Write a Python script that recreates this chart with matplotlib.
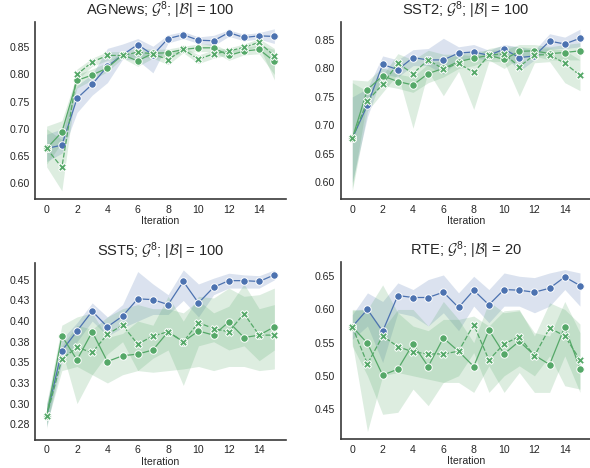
import numpy as np
import matplotlib
matplotlib.use("Agg")
import matplotlib.pyplot as plt

plt.rcParams['font.family'] = ['Liberation Sans', 'DejaVu Sans']
plt.rcParams['mathtext.fontset'] = 'custom'
plt.rcParams['mathtext.rm'] = 'Liberation Sans'
plt.rcParams['mathtext.it'] = 'Liberation Sans:italic'
plt.rcParams['mathtext.cal'] = 'cmsy10'

BLUE = '#4C72B0'
GREEN = '#55A868'
TXT = '#262626'

iters = np.arange(16)

# ---- AGNews ----
ag_blue = [0.664, 0.670, 0.756, 0.782, 0.815, 0.836, 0.855, 0.836, 0.866, 0.873, 0.863, 0.862, 0.877, 0.868, 0.871, 0.870]
ag_blue_lo = [0.640, 0.655, 0.730, 0.762, 0.785, 0.828, 0.826, 0.803, 0.858, 0.866, 0.857, 0.853, 0.870, 0.862, 0.865, 0.857]
ag_blue_hi = [0.690, 0.700, 0.780, 0.800, 0.848, 0.856, 0.866, 0.852, 0.873, 0.879, 0.869, 0.872, 0.882, 0.874, 0.877, 0.884]
ag_gc = [0.664, 0.694, 0.789, 0.799, 0.812, 0.836, 0.825, 0.839, 0.840, 0.846, 0.849, 0.849, 0.835, 0.843, 0.846, 0.824]
ag_gc_lo = [0.635, 0.675, 0.775, 0.790, 0.805, 0.830, 0.815, 0.830, 0.832, 0.840, 0.842, 0.842, 0.826, 0.836, 0.838, 0.800]
ag_gc_hi = [0.705, 0.715, 0.800, 0.810, 0.822, 0.842, 0.836, 0.846, 0.847, 0.852, 0.856, 0.856, 0.843, 0.850, 0.854, 0.846]
ag_gx = [0.664, 0.629, 0.800, 0.823, 0.835, 0.835, 0.841, 0.838, 0.827, 0.846, 0.828, 0.838, 0.843, 0.850, 0.859, 0.834]
ag_gx_lo = [0.630, 0.586, 0.790, 0.815, 0.826, 0.830, 0.833, 0.830, 0.818, 0.840, 0.820, 0.830, 0.836, 0.844, 0.852, 0.790]
ag_gx_hi = [0.700, 0.680, 0.810, 0.830, 0.842, 0.842, 0.849, 0.846, 0.836, 0.851, 0.836, 0.845, 0.849, 0.856, 0.866, 0.848]

# ---- SST2 ----
s2_blue = [0.677, 0.736, 0.807, 0.798, 0.819, 0.815, 0.815, 0.827, 0.829, 0.823, 0.834, 0.819, 0.822, 0.848, 0.843, 0.853]
s2_blue_lo = [0.600, 0.715, 0.790, 0.785, 0.805, 0.805, 0.790, 0.815, 0.818, 0.815, 0.825, 0.795, 0.815, 0.835, 0.835, 0.838]
s2_blue_hi = [0.750, 0.765, 0.822, 0.815, 0.833, 0.835, 0.853, 0.838, 0.842, 0.832, 0.842, 0.838, 0.832, 0.861, 0.855, 0.869]
s2_gc = [0.677, 0.763, 0.787, 0.777, 0.771, 0.791, 0.800, 0.812, 0.818, 0.823, 0.816, 0.830, 0.831, 0.826, 0.828, 0.831]
s2_gc_lo = [0.590, 0.748, 0.770, 0.765, 0.758, 0.775, 0.785, 0.800, 0.805, 0.815, 0.800, 0.818, 0.822, 0.815, 0.815, 0.815]
s2_gc_hi = [0.780, 0.778, 0.802, 0.790, 0.785, 0.808, 0.815, 0.825, 0.830, 0.832, 0.832, 0.842, 0.842, 0.838, 0.842, 0.845]
s2_gx = [0.677, 0.743, 0.772, 0.809, 0.791, 0.815, 0.799, 0.809, 0.793, 0.823, 0.826, 0.803, 0.824, 0.824, 0.809, 0.788]
s2_gx_lo = [0.585, 0.725, 0.758, 0.790, 0.695, 0.795, 0.752, 0.795, 0.728, 0.812, 0.812, 0.751, 0.810, 0.812, 0.775, 0.761]
s2_gx_hi = [0.775, 0.760, 0.788, 0.826, 0.815, 0.832, 0.825, 0.825, 0.822, 0.835, 0.840, 0.838, 0.836, 0.836, 0.832, 0.815]

# ---- SST5 ----
s5_blue = [0.285, 0.364, 0.388, 0.412, 0.393, 0.406, 0.427, 0.426, 0.420, 0.448, 0.422, 0.441, 0.449, 0.449, 0.448, 0.456]
s5_blue_lo = [0.272, 0.350, 0.375, 0.400, 0.382, 0.392, 0.400, 0.408, 0.408, 0.425, 0.405, 0.432, 0.440, 0.440, 0.440, 0.450]
s5_blue_hi = [0.300, 0.378, 0.398, 0.422, 0.405, 0.420, 0.460, 0.445, 0.432, 0.462, 0.445, 0.452, 0.458, 0.456, 0.455, 0.462]
s5_gc = [0.285, 0.382, 0.353, 0.387, 0.351, 0.358, 0.360, 0.365, 0.387, 0.375, 0.388, 0.383, 0.399, 0.380, 0.383, 0.393]
s5_gc_lo = [0.270, 0.365, 0.300, 0.335, 0.325, 0.335, 0.340, 0.338, 0.340, 0.342, 0.345, 0.340, 0.345, 0.345, 0.340, 0.342]
s5_gc_hi = [0.300, 0.395, 0.405, 0.410, 0.380, 0.385, 0.400, 0.395, 0.430, 0.400, 0.430, 0.428, 0.440, 0.430, 0.432, 0.440]
s5_gx = [0.285, 0.354, 0.368, 0.362, 0.384, 0.395, 0.372, 0.382, 0.387, 0.375, 0.398, 0.391, 0.387, 0.409, 0.383, 0.383]
s5_gx_lo = [0.275, 0.340, 0.345, 0.335, 0.360, 0.375, 0.340, 0.355, 0.365, 0.322, 0.370, 0.375, 0.365, 0.370, 0.352, 0.365]
s5_gx_hi = [0.298, 0.370, 0.395, 0.390, 0.405, 0.415, 0.420, 0.415, 0.415, 0.410, 0.425, 0.410, 0.418, 0.445, 0.415, 0.420]

# ---- RTE ----
rte_blue = [0.574, 0.600, 0.567, 0.621, 0.618, 0.618, 0.626, 0.603, 0.629, 0.607, 0.630, 0.629, 0.626, 0.632, 0.649, 0.636]
rte_blue_lo = [0.555, 0.575, 0.520, 0.595, 0.590, 0.575, 0.595, 0.568, 0.605, 0.580, 0.605, 0.605, 0.595, 0.605, 0.630, 0.605]
rte_blue_hi = [0.592, 0.625, 0.612, 0.640, 0.630, 0.645, 0.652, 0.625, 0.650, 0.630, 0.655, 0.650, 0.648, 0.655, 0.660, 0.655]
rte_gc = [0.574, 0.549, 0.501, 0.510, 0.548, 0.514, 0.557, 0.537, 0.514, 0.569, 0.533, 0.552, 0.531, 0.517, 0.574, 0.511]
rte_gc_lo = [0.545, 0.500, 0.442, 0.445, 0.480, 0.455, 0.490, 0.490, 0.475, 0.515, 0.475, 0.505, 0.475, 0.475, 0.530, 0.475]
rte_gc_hi = [0.598, 0.600, 0.570, 0.600, 0.600, 0.575, 0.612, 0.585, 0.550, 0.612, 0.595, 0.598, 0.565, 0.560, 0.612, 0.565]
rte_gx = [0.574, 0.518, 0.560, 0.544, 0.536, 0.533, 0.533, 0.537, 0.577, 0.524, 0.548, 0.559, 0.530, 0.572, 0.560, 0.524]
rte_gx_lo = [0.550, 0.416, 0.500, 0.505, 0.500, 0.495, 0.490, 0.500, 0.535, 0.475, 0.500, 0.515, 0.500, 0.530, 0.485, 0.480]
rte_gx_hi = [0.600, 0.600, 0.637, 0.595, 0.575, 0.568, 0.585, 0.585, 0.590, 0.575, 0.598, 0.600, 0.560, 0.610, 0.600, 0.578]

titles = ['AGNews; $\\mathcal{G}^8$; $|\\mathcal{B}|$ = 100',
          'SST2; $\\mathcal{G}^8$; $|\\mathcal{B}|$ = 100',
          'SST5; $\\mathcal{G}^8$; $|\\mathcal{B}|$ = 100',
          'RTE; $\\mathcal{G}^8$; $|\\mathcal{B}|$ = 20']

yticks = [[0.60, 0.65, 0.70, 0.75, 0.80, 0.85],
          [0.60, 0.65, 0.70, 0.75, 0.80, 0.85],
          [0.275, 0.30, 0.325, 0.35, 0.375, 0.40, 0.425, 0.45],
          [0.45, 0.50, 0.55, 0.60, 0.65]]
ytick_labels = [['0.60', '0.65', '0.70', '0.75', '0.80', '0.85'],
                ['0.60', '0.65', '0.70', '0.75', '0.80', '0.85'],
                ['0.28', '0.30', '0.33', '0.35', '0.38', '0.40', '0.43', '0.45'],
                ['0.45', '0.50', '0.55', '0.60', '0.65']]
ylims = [(0.571, 0.8965), (0.5707, 0.8816), (0.256, 0.4702), (0.4048, 0.6711)]

panels = [
    (ag_blue, ag_blue_lo, ag_blue_hi, ag_gc, ag_gc_lo, ag_gc_hi, ag_gx, ag_gx_lo, ag_gx_hi),
    (s2_blue, s2_blue_lo, s2_blue_hi, s2_gc, s2_gc_lo, s2_gc_hi, s2_gx, s2_gx_lo, s2_gx_hi),
    (s5_blue, s5_blue_lo, s5_blue_hi, s5_gc, s5_gc_lo, s5_gc_hi, s5_gx, s5_gx_lo, s5_gx_hi),
    (rte_blue, rte_blue_lo, rte_blue_hi, rte_gc, rte_gc_lo, rte_gc_hi, rte_gx, rte_gx_lo, rte_gx_hi),
]

# axes boxes in figure fractions (left, bottom, width, height)
boxes = [(0.0598, 0.5748, 0.4245, 0.3782),
         (0.5778, 0.5748, 0.4245, 0.3782),
         (0.0598, 0.0600, 0.4245, 0.3777),
         (0.5778, 0.0620, 0.4245, 0.3776)]

fig = plt.figure(figsize=(5.9, 4.68), dpi=100)

for k, (data, box) in enumerate(zip(panels, boxes)):
    b, blo, bhi, gc, gclo, gchi, gx, gxlo, gxhi = data
    ax = fig.add_axes(box)

    ax.fill_between(iters, blo, bhi, color=BLUE, alpha=0.2, linewidth=0)
    ax.fill_between(iters, gclo, gchi, color=GREEN, alpha=0.2, linewidth=0)
    ax.fill_between(iters, gxlo, gxhi, color=GREEN, alpha=0.2, linewidth=0)

    ax.plot(iters, b, color=BLUE, lw=0.9, marker='o', ms=5.4,
            mec='white', mew=0.7, zorder=3)
    ax.plot(iters, gc, color=GREEN, lw=0.9, marker='o', ms=5.4,
            mec='white', mew=0.7, zorder=3)
    ax.plot(iters, gx, color=GREEN, lw=0.9, marker='X', ms=5.6,
            mec='white', mew=0.7, dashes=(4, 1.5), zorder=4)

    ax.set_xlim(-0.75, 15.75)
    ax.set_ylim(*ylims[k])
    ax.set_xticks(range(0, 16, 2))
    ax.set_yticks(yticks[k])
    ax.set_yticklabels(ytick_labels[k])
    ax.tick_params(length=0, labelsize=7.6, labelcolor=TXT, pad=4)
    ax.set_xlabel('Iteration', fontsize=7.6, color=TXT, labelpad=1)
    ax.set_title(titles[k], fontsize=10.5, color=TXT, pad=5)

    for side in ['top', 'right']:
        ax.spines[side].set_visible(False)
    for side in ['left', 'bottom']:
        ax.spines[side].set_color('#3a3a3a')
        ax.spines[side].set_linewidth(1.2)
    ax.set_facecolor('white')

fig.savefig('out.png', dpi=100)
